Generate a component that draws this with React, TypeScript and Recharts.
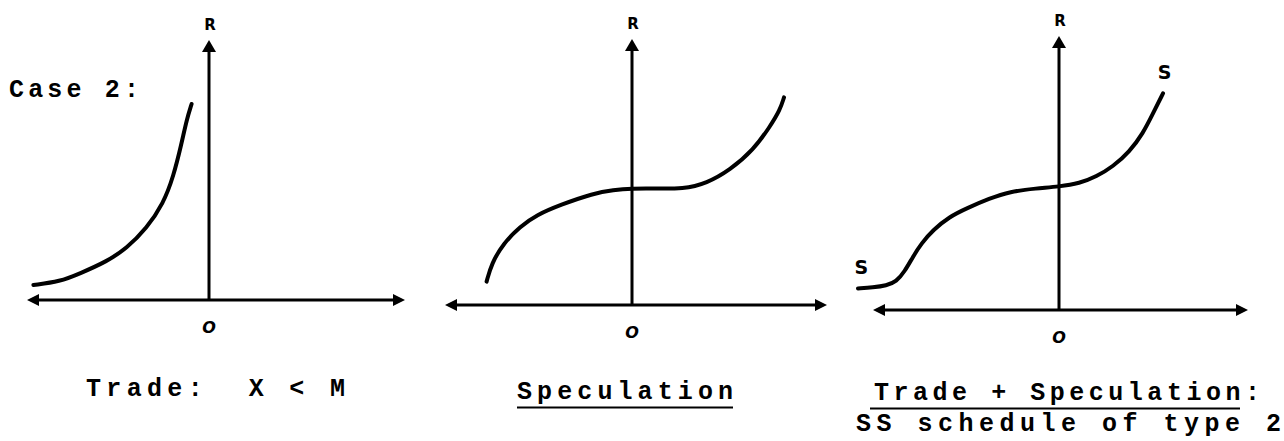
import React from 'react';
import { LineChart, Line, XAxis, YAxis, ReferenceLine, ReferenceDot } from 'recharts';

// values: x left/right of the origin, R above the axis (1 unit ~ 20px)
const tradeX = [-8.78, -7.45, -6.45, -5.12, -4.12, -3.12, -2.28, -1.78, -1.37, -1.12, -0.87];
const tradeR = [0.75, 0.92, 1.33, 1.92, 2.58, 3.58, 4.83, 6.17, 7.83, 9.0, 9.8];

const specX = [-7.27, -7.02, -6.43, -5.6, -4.77, -3.6, -1.93, -0.93, 0, 1.07, 2.57, 3.73, 4.9, 6.07, 6.9, 7.4, 7.6];
const specR = [1.17, 2.08, 3.08, 3.92, 4.5, 5.0, 5.58, 5.75, 5.83, 5.83, 5.8, 6.08, 6.75, 7.75, 8.92, 9.75, 10.38];

const bothX = [-10.05, -9.3, -8.63, -8.13, -7.72, -7.3, -6.88, -6.3, -5.47, -4.63, -3.47, -2.47, -1.13, 0, 1.03, 1.87, 2.7, 3.53, 4.2, 4.7, 5.2];
const bothR = [1.08, 1.13, 1.22, 1.42, 1.92, 2.67, 3.33, 4.0, 4.67, 5.08, 5.58, 5.92, 6.08, 6.17, 6.33, 6.67, 7.17, 7.92, 8.83, 9.83, 10.83];

// where each axis arrow ends (data units)
const tradeAxis = { left: -9.1, right: 9.8, top: 13 };
const specAxis = { left: -9.35, right: 9.75, top: 13.3 };
const bothAxis = { left: -9.3, right: 9.45, top: 13.7 };

// the two "S" marks on the last schedule
const sMarks = [
  { x: -9.88, y: 2.17 },
  { x: 5.28, y: 11.9 },
];

const toRows = (xs: number[], ys: number[]) => xs.map((x, i) => ({ x, y: ys[i] }));

const UNIT = 20;
const M = { top: 30, right: 20, bottom: 45, left: 20 };

function hAxisShape(p: any) {
  const y = p.y1;
  const l = Math.min(p.x1, p.x2);
  const r = Math.max(p.x1, p.x2);
  return (
    <g>
      <line x1={l + 6} y1={y} x2={r - 6} y2={y} stroke="#000" strokeWidth={3} />
      <polygon points={`${l},${y} ${l + 12},${y - 6} ${l + 12},${y + 6}`} fill="#000" />
      <polygon points={`${r},${y} ${r - 12},${y - 6} ${r - 12},${y + 6}`} fill="#000" />
    </g>
  );
}

function vAxisShape(p: any) {
  const x = p.x1;
  const t = Math.min(p.y1, p.y2);
  const b = Math.max(p.y1, p.y2);
  return (
    <g>
      <line x1={x} y1={t + 6} x2={x} y2={b} stroke="#000" strokeWidth={3} />
      <polygon points={`${x},${t} ${x - 7},${t + 12} ${x + 7},${t + 12}`} fill="#000" />
      <text x={x + 1} y={t - 15} textAnchor="middle" dominantBaseline="central"
        fontFamily="DejaVu Sans, sans-serif" fontWeight="bold" fontSize={15}>R</text>
      <text x={x} y={b + 27} textAnchor="middle" dominantBaseline="central"
        fontFamily="DejaVu Sans, sans-serif" fontWeight="bold" fontStyle="italic" fontSize={16}>O</text>
    </g>
  );
}

function sShape(p: any) {
  return (
    <text x={p.cx} y={p.cy} textAnchor="middle" dominantBaseline="central"
      fontFamily="DejaVu Sans, sans-serif" fontWeight="bold" fontSize={19}>S</text>
  );
}

type PanelProps = {
  rows: { x: number; y: number }[];
  axis: { left: number; right: number; top: number };
  origin: [number, number];
  xDomain: [number, number];
  yDomain: [number, number];
  marks?: { x: number; y: number }[];
};

function Panel({ rows, axis, origin, xDomain, yDomain, marks = [] }: PanelProps) {
  const w = (xDomain[1] - xDomain[0]) * UNIT + M.left + M.right;
  const h = (yDomain[1] - yDomain[0]) * UNIT + M.top + M.bottom;
  const left = origin[0] + xDomain[0] * UNIT - M.left;
  const top = origin[1] - yDomain[1] * UNIT - M.top;
  return (
    <div style={{ position: 'absolute', left, top }}>
      <LineChart width={w} height={h} data={rows} margin={M}>
        <XAxis dataKey="x" type="number" domain={xDomain} hide />
        <YAxis type="number" domain={yDomain} hide />
        <ReferenceLine segment={[{ x: axis.left, y: 0 }, { x: axis.right, y: 0 }]} shape={hAxisShape} />
        <ReferenceLine segment={[{ x: 0, y: 0 }, { x: 0, y: axis.top }]} shape={vAxisShape} />
        <Line dataKey="y" type="basis" stroke="#000" strokeWidth={4} dot={false}
          strokeLinecap="round" isAnimationActive={false} />
        {marks.map((m, i) => (
          <ReferenceDot key={i} x={m.x} y={m.y} r={0} shape={sShape} />
        ))}
      </LineChart>
    </div>
  );
}

const mono = { fontFamily: '"Liberation Mono", monospace', fontWeight: 'bold' as const, fontSize: 25 };

export default function App() {
  return (
    <div style={{ position: 'absolute', left: 0, top: 0, width: 1284, height: 441, background: '#fff', overflow: 'hidden' }}>
      <Panel rows={toRows(tradeX, tradeR)} axis={tradeAxis} origin={[209, 300]} xDomain={[-9.5, 10]} yDomain={[0, 13.5]} />
      <Panel rows={toRows(specX, specR)} axis={specAxis} origin={[632, 305]} xDomain={[-9.5, 10]} yDomain={[0, 13.5]} />
      <Panel rows={toRows(bothX, bothR)} axis={bothAxis} origin={[1059, 310]} xDomain={[-10.5, 10]} yDomain={[0, 14]} marks={sMarks} />
      <svg width={1284} height={441} style={{ position: 'absolute', left: 0, top: 0, pointerEvents: 'none' }}>
        <text x={9} y={97} textLength={130} lengthAdjust="spacing" {...mono}>Case 2:</text>
        <text x={86} y={396} textLength={259} lengthAdjust="spacing" {...mono} style={{ whiteSpace: 'pre' }}>{'Trade:  X < M'}</text>
        <text x={517} y={399} textLength={216} lengthAdjust="spacing" {...mono}>Speculation</text>
        <line x1={517} y1={407.5} x2={733} y2={407.5} stroke="#000" strokeWidth={2} />
        <text x={874} y={400} textLength={386} lengthAdjust="spacing" {...mono} style={{ whiteSpace: 'pre' }}>Trade + Speculation:</text>
        <line x1={870} y1={408.5} x2={1240} y2={408.5} stroke="#000" strokeWidth={2} />
        <text x={856} y={431} textLength={425} lengthAdjust="spacing" {...mono} style={{ whiteSpace: 'pre' }}>SS schedule of type 2</text>
      </svg>
    </div>
  );
}
